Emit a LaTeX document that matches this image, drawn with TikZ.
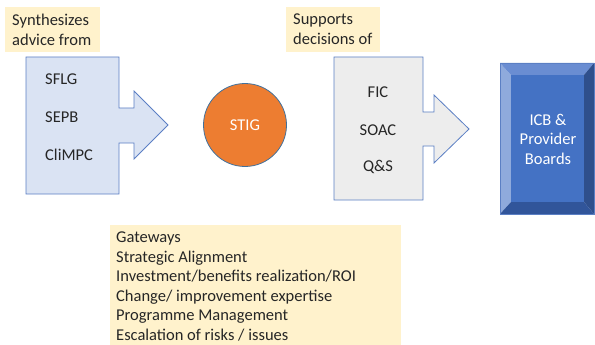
\documentclass[tikz,border=0pt]{standalone}
\usepackage{fontspec}
\setmainfont{Carlito}
\definecolor{note}{HTML}{FFF2CC}
\definecolor{lblue}{HTML}{DAE3F3}
\definecolor{lgray}{HTML}{EDEDED}
\definecolor{edgeblue}{HTML}{5B7FC4}
\definecolor{orng}{HTML}{ED7D31}
\definecolor{orngedge}{HTML}{41719C}
\definecolor{face}{HTML}{4472C4}
\definecolor{bevL}{HTML}{8FAADC}
\definecolor{bevT}{HTML}{6A8DD2}
\definecolor{bevR}{HTML}{2F4F8C}
\definecolor{bevB}{HTML}{31559A}
\tikzset{
  txt/.style={font=\fontsize{16.5}{19.5}\selectfont, inner sep=0pt, text=black!85},
  notebox/.style={fill=note, draw=none},
  arrowshape/.style={draw=edgeblue, line width=0.8pt, line join=miter},
}
\begin{document}
\begin{tikzpicture}[x=1pt, y=-1pt]
\useasboundingbox (0,0) rectangle (595,345);
% note boxes
\fill[notebox] (5,7) rectangle (100,52);
\node[txt, anchor=north west, align=left] (syn) at (12,14) {Synthesizes\\advice from};
\fill[notebox] (286,7) rectangle (380,52);
\node[txt, anchor=north west, align=left] (sup) at (293,14) {Supports\\decisions of};
\fill[notebox] (110,225) rectangle (401,345);
\node[txt, anchor=north west, align=left] (list) at (116,232) {Gateways\\Strategic Alignment\\Investment/benefits realization/ROI\\Change/ improvement expertise\\Programme Management\\Escalation of risks / issues};
% left arrow
\filldraw[arrowshape, fill=lblue] (26,57) -- (119,57) -- (119,108) -- (134,108) -- (134,91) -- (168,125) -- (134,159) -- (134,143) -- (119,143) -- (119,194) -- (26,194) -- cycle;
\node[txt, anchor=west] (sflg) at (45,79) {SFLG};
\node[txt, anchor=west] (sepb) at (45,117) {SEPB};
\node[txt, anchor=west] (climpc) at (45,155) {CliMPC};
% circle
\node[circle, minimum size=83pt, fill=orng, draw=orngedge, line width=0.8pt, txt, text=white] (stig) at (245,125) {STIG};
% right arrow
\filldraw[arrowshape, fill=lgray] (334,57) -- (423,57) -- (423,112) -- (434,112) -- (434,95) -- (469,129) -- (434,163) -- (434,146) -- (423,146) -- (423,200) -- (334,200) -- cycle;
\node[txt] (fic) at (378,92) {FIC};
\node[txt] (soac) at (378,130) {SOAC};
\node[txt] (qs) at (378,167) {Q\&S};
% bevel box
\fill[bevL] (500,63) -- (511,75) -- (511,202) -- (500,214) -- cycle;
\fill[bevT] (500,63) -- (594,63) -- (584,75) -- (511,75) -- cycle;
\fill[bevR] (594,63) -- (594,214) -- (584,202) -- (584,75) -- cycle;
\fill[bevB] (500,214) -- (594,214) -- (584,202) -- (511,202) -- cycle;
\fill[face] (511,75) rectangle (584,202);
\draw[edgeblue, line width=0.6pt] (500,63) rectangle (594,214);
\node[txt, text=white, align=center] (icb) at (548,139) {ICB \&\\Provider\\Boards};
\end{tikzpicture}
\end{document}
